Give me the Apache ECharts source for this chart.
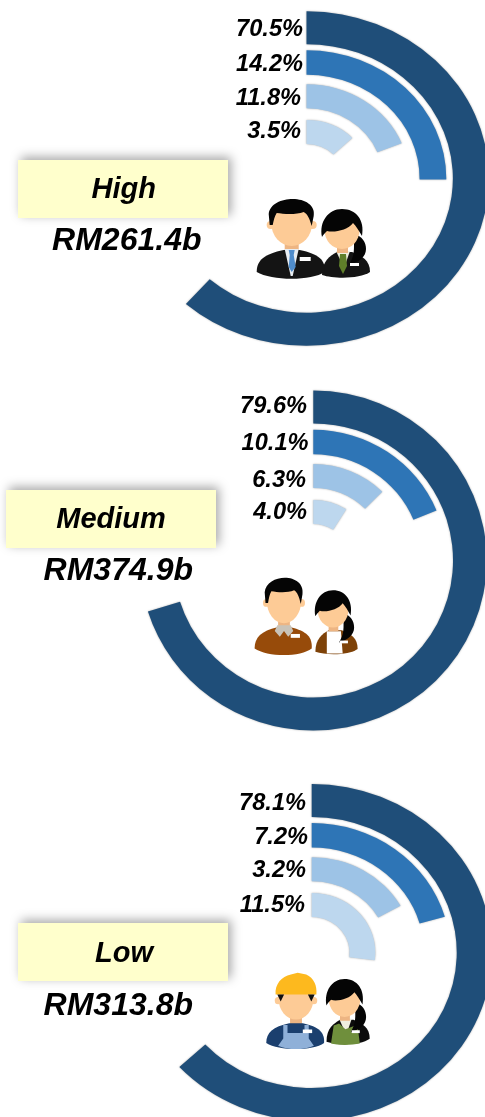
<!DOCTYPE html>
<html><head><meta charset="utf-8">
<style>html,body{margin:0;padding:0;background:#fff}#c{width:485px;height:1117px}</style>
<script src="https://cdn.jsdelivr.net/npm/echarts@6/dist/echarts.min.js"></script>
</head><body><div id="c"></div>
<script>
// ---- data ----
const groupNames = ['High', 'Medium', 'Low'];
const groupTotals = ['RM261.4b', 'RM374.9b', 'RM313.8b'];
const highShares = ['70.5%', '14.2%', '11.8%', '3.5%'];
const mediumShares = ['79.6%', '10.1%', '6.3%', '4.0%'];
const lowShares = ['78.1%', '7.2%', '3.2%', '11.5%'];
// drawn arc sweep in degrees (the arcs are decorative and not proportional to the labels)
const highSweep = [221.4, 90.5, 68, 46];
const mediumSweep = [252.5, 67.5, 44.5, 32.3];
const lowSweep = [227.2, 74, 60.6, 97.5];

// ---- layout / style ----
const ringColors = ['#1F4E79', '#2E75B6', '#9DC3E6', '#BDD7EE'];
const ringWidths = [33, 24.5, 24, 24];
const ringNudge = [0, 0, 1, 0];
const FONT = '"Liberation Sans", Arial, sans-serif';
const panels = [
  { shares: highShares, sweep: highSweep, center: [306.5, 178.5], radius: [29, 168.2], sx: 1.09,
    labelRight: [303, 303, 301, 301], labelY: [28, 63, 97, 130.5],
    box: [18, 160], nameAt: [123.7, 189.5], totalAt: [126.8, 241.5] },
  { shares: mediumShares, sweep: mediumSweep, center: [313.3, 560.5], radius: [31, 171], sx: 1.02,
    labelRight: [307, 308.5, 306, 307], labelY: [405, 442, 479, 511],
    box: [6, 490], nameAt: [111, 519.5], totalAt: [118.3, 571.5] },
  { shares: lowShares, sweep: lowSweep, center: [311.7, 952.5], radius: [30, 169.5], sx: 1.07,
    labelRight: [306, 308, 306, 305], labelY: [802, 836, 869, 904],
    box: [18, 923], nameAt: [124, 953.5], totalAt: [118.3, 1006.5] }
];
const SKIN = '#FDCB96', NECK = '#EDB583';
const oval = (cx, cy, rx, ry, fill) => ({ type: 'circle', x: cx, y: cy, scaleX: rx, scaleY: ry, shape: { cx: 0, cy: 0, r: 1 }, style: { fill } });
let shapeCount = 0;
const pathEl = (d, fill) => {
  const name = 'iconShape' + (shapeCount++);
  echarts.graphic.registerShape(name, echarts.graphic.extendPath(d));
  return { type: name, style: { fill } };
};

function male(x, y, sx, sy, o) {
  const kids = [
    { type: 'rect', shape: { x: -7, y: 18, width: 14, height: 14 }, style: { fill: NECK } },
    pathEl('M-35,50 C-35,38 -27,32 -8,28 L8,28 C27,32 34,38 33,50 C20,59 -20,59 -35,50Z', o.body),
    { type: 'circle', shape: { cx: -21, cy: 3, r: 4 }, style: { fill: SKIN } },
    { type: 'circle', shape: { cx: 21, cy: 3, r: 4 }, style: { fill: SKIN } },
    oval(0, 1, 20.5, 23, SKIN)
  ];
  if (o.helmet) {
    kids.push(pathEl('M-24,-4 C-25,-15 -17,-24 -6,-26 L2,-28 L12,-26 C21,-22 25,-14 24,-4 Z', o.helmet));
    kids.push(pathEl('M-22,-4 L-14,-4 L-18,4Z M22,-4 L14,-4 L18,4Z', '#111'));
  } else {
    kids.push(pathEl('M-22,3 L-23,-8 C-22,-18 -10,-23 1,-23 C13,-23 24,-17 22,-6 L20,4 C18,-3 16,-8 12,-10 C4,-7 -8,-8 -15,-9 C-17,-6 -18,-2 -19,3 Z', '#050505'));
  }
  if (o.tie) {
    kids.push(pathEl('M-7,27 L7,27 L1,54 L-1,54Z', '#E8EDF2'));
    kids.push(pathEl('M-3,28 L3,28 L2,33 L4,45 L0,50 L-3,45 L-2,33Z', o.tie));
  }
  if (o.collar) {
    kids.push(pathEl('M-8,26 L8,26 L11,32 L5,38 L0,32 L-5,38 L-11,32Z', o.collar));
  }
  if (o.overall) {
    kids.push(pathEl('M-15,30 L-10,30 L-10,39 L10,39 L10,30 L15,30 L15,45 L21,53 C10,58 -10,58 -21,53 L-15,45Z', o.overall));
  }
  kids.push({ type: 'rect', shape: { x: 8, y: 35, width: 11, height: 4 }, style: { fill: '#fff' } });
  return { type: 'group', x, y, scaleX: sx, scaleY: sy, silent: true, children: kids };
}

function female(x, y, sx, sy, o) {
  const kids = [
    pathEl('M-20,47 C-20,33 -12,28 -5,24 L10,24 C20,28 28,32 28,44 C18,51 -8,51 -20,47Z', o.body),
    pathEl(o.shirt === '#fff' ? 'M-7,25 L9,25 L11,49 L-7,49Z' : 'M-6,23 L8,23 L2,40 Z', o.shirt)
  ];
  if (o.apron) {
    kids.push(pathEl('M-12,30 L-6,28 L1,34 L12,30 L15,34 L17,49 C8,51 -8,51 -15,49Z', o.apron));
  }
  if (o.tie) {
    kids.push(pathEl('M-2,26 L4,26 L5,38 L1,46 L-3,38Z', o.tie));
  }
  kids.push({ type: 'rect', shape: { x: -5, y: 14, width: 11, height: 11 }, style: { fill: NECK } });
  kids.push(pathEl('M12,6 C20,8 24,14 24,21 C24,29 17,34 7,37 C11,30 12,26 12,18Z', '#050505'));
  kids.push(oval(0, 2, 17.5, 19, SKIN));
  kids.push(pathEl('M-20,9 C-23,-6 -14,-19 0,-19 C14,-19 23,-8 20,8 C17,3 14,-2 11,-5 C6,2 -8,5 -15,3 C-17,5 -19,7 -20,9Z', '#050505'));
  kids.push({ type: 'rect', shape: { x: 8, y: 35, width: 9, height: 3 }, style: { fill: '#fff' } });
  return { type: 'group', x, y, scaleX: sx, scaleY: sy, silent: true, children: kids };
}

const renderRing = (p) => (params, api) => {
  const i = api.value(0);
  const c = api.coord([i, api.value(1)]);
  const cx = params.coordSys.cx, cy = params.coordSys.cy;
  const end = Math.atan2(c[1] - cy, c[0] - cx);
  const mid = c[2] + ringNudge[i];
  const w = ringWidths[i];
  return {
    type: 'group',
    children: [
      {
        type: 'sector', x: cx, y: cy, scaleX: p.sx, scaleY: 1,
        shape: { cx: 0, cy: 0, r: mid + w / 2, r0: mid - w / 2, startAngle: -Math.PI / 2, endAngle: end, clockwise: true },
        style: { fill: ringColors[i], shadowBlur: 2, shadowColor: 'rgba(0,0,0,0.35)' }
      },
      {
        type: 'text', x: p.labelRight[i], y: p.labelY[i] + 1,
        style: { text: p.shares[i], font: 'italic bold 23.6px ' + FONT, fill: '#000', align: 'right', verticalAlign: 'middle' }
      }
    ]
  };
};

const polar = [], angleAxis = [], radiusAxis = [], series = [], graphics = [];
panels.forEach((p, k) => {
  polar.push({ center: p.center, radius: p.radius });
  angleAxis.push({ polarIndex: k, type: 'value', min: 0, max: 360, startAngle: 90, show: false });
  radiusAxis.push({ polarIndex: k, type: 'category', data: p.shares, inverse: true, show: false });
  series.push({
    type: 'custom', coordinateSystem: 'polar', polarIndex: k, clip: false, silent: true,
    encode: { radius: 0, angle: 1 },
    data: p.sweep.map((v, i) => [i, v]),
    renderItem: renderRing(p)
  });
  graphics.push({
    type: 'rect', shape: { x: p.box[0], y: p.box[1], width: 210, height: 58 }, silent: true,
    style: { fill: '#FFFFCC', shadowBlur: 10, shadowColor: 'rgba(0,0,0,0.35)', shadowOffsetX: 3, shadowOffsetY: -3 }
  });
  graphics.push({
    type: 'text', x: p.nameAt[0], y: p.nameAt[1], silent: true,
    style: { text: groupNames[k], font: 'italic bold 29px ' + FONT, fill: '#000', align: 'center', verticalAlign: 'middle' }
  });
  graphics.push({
    type: 'text', x: p.totalAt[0], y: p.totalAt[1], silent: true,
    style: { text: groupTotals[k], font: 'italic bold 32px ' + FONT, fill: '#000', align: 'center', verticalAlign: 'middle' }
  });
});

graphics.push(
  female(342, 228, 1, 1, { body: '#141414', shirt: '#EFEFE0', tie: '#5F7F2A' }),
  male(291.7, 222, 1, 1, { body: '#141414', tie: '#4F8CCB' }),
  female(333, 608, 0.88, 0.93, { body: '#7E4208', shirt: '#fff' }),
  male(284, 600, 0.84, 0.97, { body: '#974B0A', collar: '#C9C3B8' }),
  female(344.5, 997, 0.9, 0.95, { body: '#0C0C0C', shirt: '#EFEFE0', apron: '#6F8F3C' }),
  male(296, 998, 0.85, 0.9, { body: '#1B3F6E', overall: '#8FB0D8', helmet: '#FDB91E' })
);

const chart = echarts.init(document.getElementById('c'), null, { renderer: 'canvas', width: 485, height: 1117 });
chart.setOption({
  animation: false,
  backgroundColor: '#fff',
  polar, angleAxis, radiusAxis, series,
  graphic: { elements: graphics }
});
</script></body></html>
